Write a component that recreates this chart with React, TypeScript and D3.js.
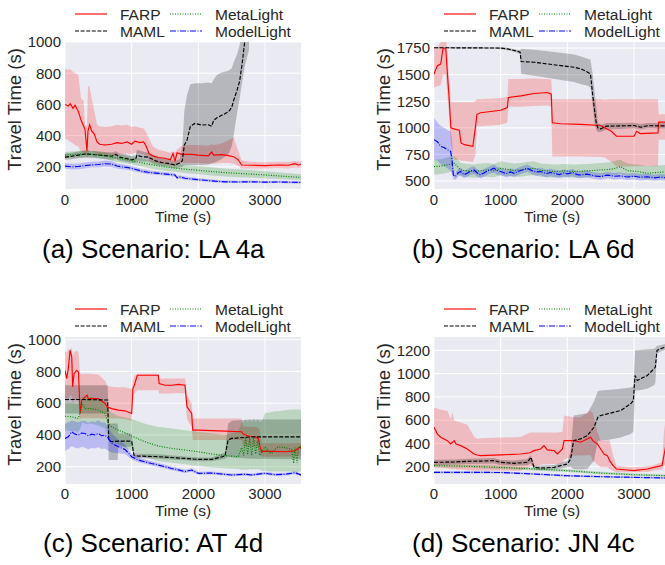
import * as d3 from 'd3'

type Row = [number, number, number, number] // time, mean, lower, upper

// ---------- (a) LA 4a ----------
const LA4A_FARP: Row[] = [
  [0, 600, 380, 830], [50, 590, 370, 820], [80, 605, 360, 825], [120, 575, 350, 810], [150, 595, 340, 800],
  [200, 555, 330, 790], [240, 500, 300, 640], [280, 460, 290, 620], [300, 440, 285, 470], [330, 300, 260, 460],
  [345, 430, 280, 720], [370, 470, 300, 710], [400, 430, 300, 640], [440, 410, 290, 560], [480, 360, 280, 470],
  [520, 345, 270, 460], [600, 340, 270, 455], [700, 345, 275, 460], [780, 355, 275, 470], [850, 350, 280, 465],
  [930, 360, 285, 470], [1000, 345, 280, 455], [1050, 365, 290, 460], [1120, 355, 285, 450], [1180, 360, 280, 445],
  [1220, 330, 270, 420], [1260, 285, 240, 380], [1320, 270, 230, 330], [1400, 260, 220, 310], [1500, 255, 215, 300],
  [1580, 245, 210, 290], [1620, 285, 215, 300], [1650, 235, 200, 290], [1680, 290, 220, 310], [1750, 280, 225, 335],
  [1900, 280, 225, 340], [2000, 275, 225, 340], [2150, 270, 220, 335], [2200, 295, 225, 345], [2230, 275, 220, 340],
  [2350, 278, 225, 350], [2450, 272, 225, 370], [2530, 265, 220, 390], [2600, 245, 205, 300], [2650, 212, 190, 240],
  [2800, 210, 190, 232], [3000, 208, 190, 230], [3200, 212, 192, 232], [3350, 210, 190, 232], [3450, 220, 195, 238],
  [3500, 212, 192, 235], [3540, 215, 195, 235],
]
const LA4A_MAML: Row[] = [
  [0, 262, 245, 285], [100, 268, 248, 290], [200, 275, 255, 298], [300, 282, 260, 305], [400, 280, 258, 302],
  [500, 276, 255, 298], [600, 272, 250, 295], [700, 268, 245, 292], [760, 280, 250, 300], [820, 262, 240, 285],
  [900, 255, 232, 280], [1000, 245, 225, 270], [1060, 250, 225, 275], [1080, 275, 240, 310], [1150, 265, 235, 300],
  [1250, 262, 235, 290], [1350, 240, 215, 265], [1450, 228, 205, 255], [1550, 222, 200, 248], [1650, 212, 190, 238],
  [1720, 225, 195, 250], [1760, 240, 200, 330], [1790, 340, 210, 560], [1830, 370, 212, 660], [1880, 460, 212, 730],
  [1950, 478, 212, 735], [2050, 468, 212, 735], [2150, 470, 215, 740], [2200, 460, 220, 735], [2230, 498, 225, 760],
  [2280, 515, 235, 790], [2350, 530, 250, 805], [2450, 552, 280, 815], [2500, 580, 330, 830], [2530, 625, 400, 870],
  [2580, 690, 540, 920], [2620, 750, 640, 980], [2660, 870, 750, 1100], [2700, 1020, 850, 1250], [2760, 1150, 950, 1400],
]
const LA4A_META: Row[] = [
  [0, 275, 255, 295], [150, 280, 258, 300], [300, 285, 262, 305], [450, 280, 258, 302], [600, 270, 248, 292],
  [750, 258, 235, 280], [900, 248, 225, 272], [1050, 235, 212, 260], [1200, 222, 198, 248], [1350, 210, 185, 235],
  [1500, 200, 175, 225], [1650, 192, 168, 218], [1800, 185, 160, 212], [2000, 178, 152, 205], [2200, 170, 145, 198],
  [2400, 163, 138, 190], [2600, 158, 134, 184], [2800, 153, 130, 178], [3000, 148, 126, 172], [3200, 142, 122, 165],
  [3400, 136, 118, 158], [3540, 132, 115, 152],
]
const LA4A_MODEL: Row[] = [
  [0, 205, 188, 225], [100, 200, 183, 220], [200, 202, 185, 222], [300, 208, 190, 228], [400, 212, 195, 232],
  [500, 215, 196, 235], [600, 220, 200, 240], [700, 218, 198, 238], [780, 205, 190, 222], [850, 200, 185, 216],
  [950, 195, 180, 210], [1050, 185, 170, 200], [1150, 172, 160, 186], [1250, 165, 153, 178], [1400, 158, 147, 170],
  [1550, 152, 141, 163], [1650, 148, 137, 160], [1680, 130, 120, 142], [1720, 135, 124, 146], [1800, 127, 117, 138],
  [1950, 120, 111, 130], [2100, 114, 106, 123], [2250, 108, 100, 117], [2400, 104, 97, 112], [2600, 103, 96, 111],
  [2800, 104, 97, 112], [3000, 102, 95, 110], [3200, 103, 96, 111], [3400, 101, 94, 109], [3540, 100, 93, 108],
]

// ---------- (b) LA 6d ----------
const LA6D_FARP: Row[] = [
  [0, 1506, 1380, 1744], [50, 1585, 1390, 1760], [100, 1600, 1400, 1800], [135, 1744, 1500, 1850], [177, 1744, 1500, 1850],
  [203, 1490, 1300, 1700], [228, 1269, 1100, 1450], [253, 1000, 850, 1250], [300, 990, 700, 1240], [380, 978, 700, 1240],
  [405, 858, 690, 1240], [456, 842, 690, 1240], [583, 826, 680, 1240], [623, 1016, 750, 1250], [644, 1127, 1016, 1269],
  [700, 1142, 1016, 1269], [1000, 1165, 1030, 1280], [1100, 1190, 1050, 1290], [1115, 1285, 1199, 1459], [1300, 1300, 1199, 1459],
  [1500, 1323, 1205, 1465], [1700, 1332, 1210, 1460], [1759, 1316, 1200, 1455], [1774, 1047, 731, 1269], [1900, 1038, 731, 1269],
  [2200, 1032, 731, 1269], [2500, 1022, 725, 1269], [2560, 1000, 720, 1265], [2661, 968, 680, 1269], [2737, 921, 636, 1269],
  [3000, 921, 636, 1269], [3041, 968, 640, 1269], [3092, 946, 640, 1269], [3360, 952, 640, 1269], [3370, 1054, 889, 1127],
  [3540, 1054, 889, 1127],
]
const LA6D_MAML: Row[] = [
  [0, 1753, 1745, 1760], [500, 1752, 1744, 1760], [1000, 1750, 1742, 1758], [1100, 1742, 1730, 1752], [1200, 1728, 1715, 1740],
  [1292, 1712, 1695, 1730], [1307, 1623, 1506, 1744], [1500, 1617, 1490, 1735], [1700, 1601, 1470, 1720], [1900, 1585, 1450, 1705],
  [2100, 1570, 1430, 1690], [2205, 1554, 1410, 1670], [2306, 1522, 1396, 1649], [2347, 1506, 1380, 1640], [2382, 1301, 1200, 1500],
  [2407, 1174, 1050, 1350], [2433, 1047, 980, 1200], [2458, 1000, 960, 1050], [2500, 990, 960, 1030], [2585, 1016, 985, 1045],
  [2800, 1018, 990, 1045], [3000, 1022, 995, 1048], [3100, 1006, 985, 1035], [3200, 1020, 995, 1045], [3540, 1018, 992, 1045],
]
const LA6D_META: Row[] = [
  [0, 636, 560, 700], [100, 640, 565, 705], [200, 652, 575, 720], [260, 660, 590, 730], [300, 668, 600, 735],
  [350, 640, 570, 710], [400, 604, 545, 670], [500, 595, 535, 660], [600, 589, 530, 655], [700, 598, 535, 665],
  [800, 604, 540, 670], [900, 596, 535, 660], [1000, 620, 555, 685], [1100, 610, 545, 675], [1200, 600, 540, 665],
  [1300, 604, 540, 670], [1400, 612, 550, 680], [1500, 620, 555, 685], [1600, 600, 540, 665], [1700, 595, 535, 660],
  [1800, 589, 530, 655], [1950, 595, 535, 660], [2100, 589, 530, 655], [2300, 596, 535, 660], [2500, 604, 545, 670],
  [2650, 610, 550, 680], [2750, 625, 560, 695], [2800, 636, 570, 700], [2850, 615, 555, 680], [2900, 598, 540, 665],
  [3050, 590, 535, 655], [3200, 573, 520, 640], [3350, 580, 525, 645], [3540, 589, 530, 655],
]
const LA6D_MODEL: Row[] = [
  [0, 889, 700, 1095], [50, 870, 690, 1050], [100, 826, 660, 1020], [150, 815, 640, 1000], [200, 794, 620, 980],
  [250, 778, 600, 968], [270, 700, 560, 900], [290, 557, 520, 620], [320, 541, 510, 575], [360, 575, 540, 610],
  [400, 589, 555, 625], [450, 560, 525, 595], [500, 573, 540, 610], [550, 595, 560, 630], [600, 604, 565, 640],
  [650, 575, 540, 610], [700, 557, 525, 592], [760, 580, 545, 615], [820, 600, 565, 635], [900, 620, 580, 655],
  [950, 598, 560, 632], [1000, 589, 555, 625], [1080, 570, 535, 605], [1150, 585, 550, 620], [1200, 573, 540, 608],
  [1280, 595, 560, 630], [1350, 610, 575, 645], [1400, 620, 585, 655], [1460, 600, 565, 635], [1530, 585, 550, 620],
  [1600, 589, 555, 625], [1680, 570, 535, 605], [1750, 580, 545, 615], [1800, 573, 540, 608], [1880, 560, 528, 595],
  [1950, 575, 540, 610], [2000, 567, 535, 600], [2080, 580, 545, 612], [2150, 560, 528, 592], [2200, 557, 525, 590],
  [2300, 565, 532, 598], [2400, 548, 518, 580], [2500, 541, 512, 572], [2600, 555, 525, 586], [2700, 545, 515, 576],
  [2800, 548, 518, 580], [2900, 538, 510, 568], [3000, 545, 515, 576], [3100, 535, 506, 565], [3200, 540, 510, 570],
  [3300, 530, 502, 560], [3400, 536, 508, 566], [3540, 525, 498, 555],
]

// ---------- (c) AT 4d ----------
const AT4D_FARP: Row[] = [
  [0, 807, 620, 930], [25, 755, 610, 920], [50, 818, 620, 935], [76, 933, 650, 950], [101, 891, 640, 940],
  [115, 703, 600, 900], [136, 786, 620, 920], [176, 807, 620, 930], [202, 797, 610, 920], [227, 535, 500, 780],
  [252, 619, 505, 786], [303, 640, 505, 786], [330, 650, 505, 786], [350, 629, 505, 786], [500, 629, 505, 780],
  [530, 619, 504, 770], [605, 598, 504, 740], [630, 577, 504, 710], [700, 566, 504, 703], [800, 556, 504, 700],
  [900, 552, 500, 700], [1000, 535, 490, 690], [1019, 692, 640, 740], [1040, 713, 660, 770], [1084, 776, 682, 786],
  [1400, 776, 682, 786], [1412, 724, 661, 755], [1500, 713, 661, 755], [1600, 713, 661, 755], [1700, 719, 665, 755],
  [1800, 713, 661, 755], [1830, 577, 500, 650], [1900, 535, 450, 600], [1916, 430, 368, 504], [2000, 430, 368, 504],
  [2300, 426, 368, 504], [2650, 420, 368, 504], [2672, 405, 326, 451], [2750, 393, 326, 451], [2848, 388, 326, 451],
  [2900, 378, 320, 445], [2925, 326, 280, 420], [2950, 294, 263, 347], [3000, 298, 263, 347], [3300, 294, 263, 347],
  [3450, 300, 263, 347], [3530, 326, 270, 350], [3540, 315, 265, 350],
]
const AT4D_MAML: Row[] = [
  [0, 623, 535, 713], [300, 623, 535, 713], [640, 620, 535, 713], [655, 368, 242, 472], [700, 357, 242, 472],
  [790, 361, 242, 472], [800, 361, 326, 409], [1000, 361, 326, 409], [1034, 273, 258, 290], [1100, 267, 255, 282],
  [1400, 263, 250, 278], [1800, 252, 240, 265], [2000, 246, 235, 258], [2200, 246, 235, 258], [2400, 267, 250, 290],
  [2446, 368, 263, 470], [2500, 378, 258, 490], [2800, 388, 250, 497], [3200, 388, 248, 497], [3540, 388, 245, 497],
]
const AT4D_META: Row[] = [
  [0, 518, 430, 600], [100, 514, 425, 600], [200, 504, 420, 595], [240, 560, 450, 620], [260, 598, 480, 640],
  [300, 566, 470, 640], [400, 566, 470, 640], [500, 556, 460, 630], [600, 535, 440, 610], [650, 472, 380, 560],
  [700, 451, 360, 540], [800, 430, 340, 520], [900, 414, 320, 510], [1000, 393, 300, 500], [1200, 357, 260, 470],
  [1400, 330, 235, 450], [1600, 315, 225, 440], [1800, 305, 215, 430], [2000, 294, 205, 420], [2200, 280, 195, 410],
  [2400, 270, 190, 400], [2600, 263, 185, 420], [2650, 320, 180, 480], [2680, 270, 180, 480], [2710, 388, 180, 500],
  [2740, 275, 180, 480], [2770, 380, 185, 500], [2800, 270, 180, 480], [2830, 385, 185, 500], [2860, 280, 180, 480],
  [2890, 370, 185, 500], [2920, 270, 180, 480], [2960, 300, 175, 490], [3000, 326, 175, 540], [3060, 290, 170, 540],
  [3100, 284, 170, 545], [3150, 310, 170, 550], [3200, 326, 170, 550], [3300, 320, 170, 555], [3400, 310, 170, 560],
  [3430, 221, 160, 560], [3450, 320, 170, 560], [3480, 225, 160, 560], [3500, 320, 170, 560], [3540, 326, 170, 560],
]
const AT4D_MODEL: Row[] = [
  [0, 378, 300, 470], [50, 388, 310, 480], [100, 420, 330, 490], [150, 405, 320, 485], [200, 399, 315, 480],
  [250, 412, 325, 488], [300, 409, 320, 490], [350, 395, 310, 478], [400, 405, 318, 486], [450, 400, 315, 482],
  [500, 409, 322, 492], [550, 395, 312, 478], [600, 399, 315, 480], [650, 380, 300, 455], [700, 347, 290, 410],
  [800, 326, 285, 370], [900, 309, 280, 340], [1000, 263, 245, 282], [1100, 242, 228, 258], [1200, 231, 218, 246],
  [1300, 220, 207, 234], [1400, 210, 198, 224], [1500, 200, 188, 213], [1600, 189, 178, 201], [1700, 180, 170, 192],
  [1800, 169, 160, 180], [1900, 179, 168, 190], [2000, 158, 150, 168], [2200, 160, 151, 170], [2400, 152, 144, 162],
  [2500, 148, 140, 157], [2700, 152, 143, 162], [2800, 148, 140, 157], [3000, 158, 149, 168], [3150, 150, 142, 160],
  [3300, 152, 144, 162], [3450, 162, 152, 172], [3540, 148, 140, 157],
]

// ---------- (d) JN 4c ----------
const JN4C_FARP: Row[] = [
  [0, 539, 190, 709], [50, 482, 190, 700], [100, 453, 190, 690], [200, 424, 185, 680], [250, 395, 180, 610],
  [279, 410, 180, 666], [304, 424, 180, 600], [330, 395, 175, 590], [400, 381, 175, 580], [500, 352, 170, 560],
  [600, 309, 166, 460], [645, 300, 166, 441], [700, 295, 166, 445], [1000, 301, 166, 450], [1300, 309, 166, 455],
  [1440, 320, 200, 493], [1500, 338, 210, 493], [1600, 352, 215, 493], [1650, 381, 220, 493], [1700, 344, 220, 493],
  [1800, 338, 223, 493], [1850, 309, 223, 493], [1926, 352, 230, 500], [1951, 424, 260, 640], [2100, 424, 295, 625],
  [2200, 410, 295, 625], [2350, 453, 300, 683], [2382, 424, 250, 660], [2450, 395, 220, 500], [2500, 352, 194, 424],
  [2550, 309, 194, 424], [2600, 295, 194, 424], [2635, 252, 180, 424], [2686, 209, 165, 300], [2737, 180, 151, 209],
  [2900, 171, 151, 200], [3000, 166, 151, 195], [3200, 180, 155, 205], [3300, 194, 165, 215], [3421, 209, 175, 240],
  [3450, 300, 210, 500], [3472, 367, 223, 597], [3540, 395, 223, 597],
]
const JN4C_MAML: Row[] = [
  [0, 237, 215, 260], [300, 240, 218, 262], [500, 246, 222, 268], [700, 248, 225, 270], [900, 252, 228, 275],
  [1000, 237, 215, 260], [1200, 229, 208, 252], [1400, 237, 212, 265], [1455, 281, 230, 300], [1500, 194, 175, 215],
  [1600, 188, 170, 208], [1800, 194, 175, 214], [1900, 209, 185, 232], [2000, 223, 195, 250], [2050, 266, 200, 330],
  [2094, 424, 180, 640], [2200, 439, 175, 650], [2300, 467, 180, 660], [2400, 539, 250, 760], [2458, 625, 420, 850],
  [2500, 640, 424, 855], [2600, 654, 430, 860], [2800, 683, 450, 870], [2950, 740, 480, 880], [2990, 769, 500, 890],
  [3016, 984, 855, 1200], [3050, 941, 855, 1200], [3100, 956, 860, 1205], [3200, 984, 870, 1210], [3300, 1042, 900, 1215],
  [3320, 1056, 920, 1220], [3345, 1200, 1170, 1240], [3400, 1214, 1190, 1245], [3540, 1243, 1220, 1265],
]
const JN4C_META: Row[] = [
  [0, 209, 195, 222], [500, 203, 190, 216], [1000, 194, 181, 207], [1500, 180, 168, 192], [2000, 166, 155, 177],
  [2500, 145, 135, 156], [3000, 131, 122, 141], [3540, 122, 113, 131],
]
const JN4C_MODEL: Row[] = [
  [0, 151, 142, 160], [500, 151, 142, 160], [1000, 150, 141, 159], [1500, 137, 129, 146], [2000, 122, 114, 130],
  [2500, 114, 107, 122], [3000, 108, 101, 116], [3540, 102, 95, 110],
]

const METHODS = ['FARP', 'MAML', 'MetaLight', 'ModelLight']
const X_TICKS = [0, 1000, 2000, 3000]
const Y_TICKS_A = [200, 400, 600, 800, 1000]
const Y_TICKS_B = [500, 750, 1000, 1250, 1500, 1750]
const Y_TICKS_C = [200, 400, 600, 800, 1000]
const Y_TICKS_D = [200, 400, 600, 800, 1000, 1200]

const STYLE: Record<string, { color: string; dash: string; band: number }> = {
  FARP: { color: '#ff0000', dash: 'none', band: 0.2 },
  MAML: { color: '#000000', dash: '4,1.6', band: 0.22 },
  MetaLight: { color: '#008000', dash: '1,1.5', band: 0.2 },
  ModelLight: { color: '#0000ff', dash: '6,1.5,1,1.5', band: 0.2 },
}

const FONT = '"Liberation Sans", Arial, Helvetica, sans-serif'
const INK = '#262626'
const W = 236
const H = 147

interface PanelDef {
  id: string
  left: number
  top: number
  yDomain: [number, number]
  yTicks: number[]
  series: Row[][]
  caption: string
  capX: number
  capY: number
  tickDy: number
  labelDy: number
}

const PANELS: PanelDef[] = [
  { id: 'a', left: 65, top: 42, yDomain: [58, 1000], yTicks: Y_TICKS_A, series: [LA4A_FARP, LA4A_MAML, LA4A_META, LA4A_MODEL], caption: '(a) Scenario: LA 4a', capX: 42, capY: 258, tickDy: 15.5, labelDy: 32.5 },
  { id: 'b', left: 434, top: 42, yDomain: [425, 1807], yTicks: Y_TICKS_B, series: [LA6D_FARP, LA6D_MAML, LA6D_META, LA6D_MODEL], caption: '(b) Scenario: LA 6d', capX: 412, capY: 258, tickDy: 15.5, labelDy: 32.5 },
  { id: 'c', left: 65, top: 337, yDomain: [91, 1017], yTicks: Y_TICKS_C, series: [AT4D_FARP, AT4D_MAML, AT4D_META, AT4D_MODEL], caption: '(c) Scenario: AT 4d', capX: 43, capY: 552, tickDy: 14.5, labelDy: 31.5 },
  { id: 'd', left: 434, top: 337, yDomain: [51, 1315], yTicks: Y_TICKS_D, series: [JN4C_FARP, JN4C_MAML, JN4C_META, JN4C_MODEL], caption: '(d) Scenario: JN 4c', capX: 412, capY: 552, tickDy: 14.5, labelDy: 31.5 },
]

function Panel({ p }: { p: PanelDef }) {
  const x = d3.scaleLinear().domain([0, 3540]).range([p.left, p.left + W])
  const y = d3.scaleLinear().domain(p.yDomain).range([p.top + H, p.top])
  const area = d3.area<Row>().x(d => x(d[0])).y0(d => y(d[2])).y1(d => y(d[3]))
  const line = d3.line<Row>().x(d => x(d[0])).y(d => y(d[1]))
  const clip = `clip-${p.id}`
  const bottom = p.top + H
  const legY = p.top - 28

  return (
    <g>
      <defs>
        <clipPath id={clip}>
          <rect x={p.left} y={p.top} width={W} height={H} />
        </clipPath>
      </defs>
      <rect x={p.left} y={p.top} width={W} height={H} fill="#eaeaf2" />
      {X_TICKS.map(t => (
        <line key={'gx' + t} x1={x(t)} x2={x(t)} y1={p.top} y2={bottom} stroke="#fff" strokeWidth={1} />
      ))}
      {p.yTicks.map(t => (
        <line key={'gy' + t} x1={p.left} x2={p.left + W} y1={y(t)} y2={y(t)} stroke="#fff" strokeWidth={1} />
      ))}
      <g clipPath={`url(#${clip})`}>
        {p.series.map((s, i) => (
          <path key={'b' + i} d={area(s) ?? ''} fill={STYLE[METHODS[i]].color} fillOpacity={STYLE[METHODS[i]].band} />
        ))}
        {p.series.map((s, i) => (
          <path key={'l' + i} d={line(s) ?? ''} fill="none" stroke={STYLE[METHODS[i]].color}
            strokeWidth={1.15} strokeDasharray={STYLE[METHODS[i]].dash} />
        ))}
      </g>
      {X_TICKS.map(t => (
        <text key={'tx' + t} x={x(t)} y={bottom + p.tickDy} textAnchor="middle" fontSize={15} fill={INK} fontFamily={FONT}>{t}</text>
      ))}
      {p.yTicks.map(t => (
        <text key={'ty' + t} x={p.left - 4} y={y(t) + 5.3} textAnchor="end" fontSize={15} fill={INK} fontFamily={FONT}>{t}</text>
      ))}
      <text x={p.left + W / 2} y={bottom + p.labelDy} textAnchor="middle" fontSize={15.5} fill={INK} fontFamily={FONT}>Time (s)</text>
      <text transform={`translate(${p.left - 44},${p.top + H / 2 - 6}) rotate(-90)`} textAnchor="middle" fontSize={18.5}
        fill={INK} fontFamily={FONT}>Travel Time (s)</text>
      {METHODS.map((m, i) => {
        // two legend columns, filled column by column
        const c = Math.floor(i / 2)
        const r = i % 2
        const lx = p.left + 10 + c * 95
        const ly = legY + r * 17
        return (
          <g key={m}>
            <line x1={lx} x2={lx + 32} y1={ly} y2={ly} stroke={STYLE[m].color} strokeWidth={1.15} strokeDasharray={STYLE[m].dash} />
            <text x={lx + 45} y={ly + 5.5} fontSize={15.5} fill={INK} fontFamily={FONT}>{m}</text>
          </g>
        )
      })}
      <text x={p.capX} y={p.capY} fontSize={26} fill="#000" fontFamily={FONT}>{p.caption}</text>
    </g>
  )
}

export default function App() {
  return (
    <svg width={665} height={565} style={{ position: 'absolute', left: 0, top: 0, background: '#fff' }}>
      <rect width={665} height={565} fill="#fff" />
      {PANELS.map(p => <Panel key={p.id} p={p} />)}
    </svg>
  )
}
